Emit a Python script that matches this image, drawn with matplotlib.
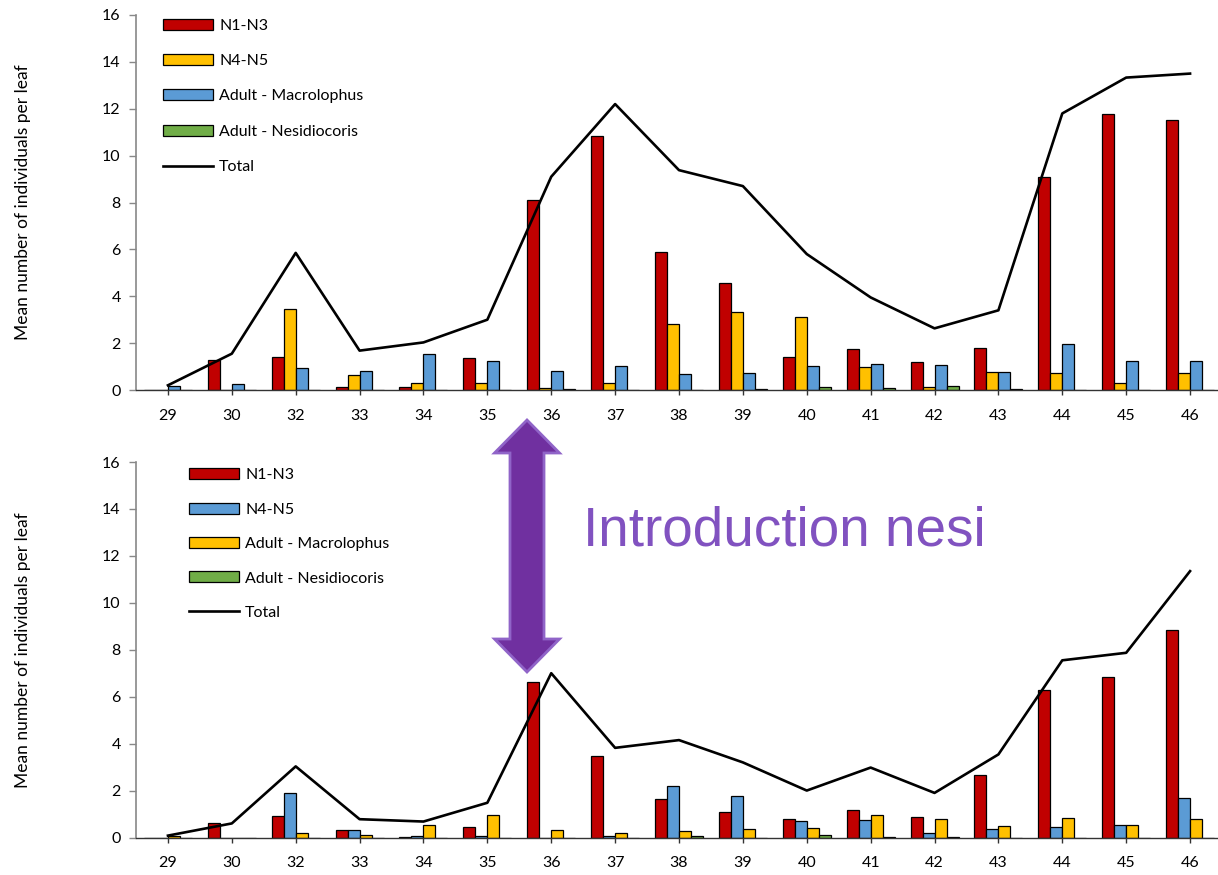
import numpy as np
import matplotlib.pyplot as plt
from matplotlib.patches import Polygon

plt.rcParams['font.family'] = ['Lato', 'DejaVu Sans']

# sampling weeks
weeks = ['29', '30', '32', '33', '34', '35', '36', '37', '38',
         '39', '40', '41', '42', '43', '44', '45', '46']

# upper panel
n1n3_top = [0, 1.28, 1.42, 0.12, 0.12, 1.35, 8.1, 10.84, 5.9,
            4.58, 1.42, 1.75, 1.21, 1.8, 9.08, 11.77, 11.5]
n4n5_top = [0, 0, 3.44, 0.65, 0.28, 0.28, 0.1, 0.28, 2.82,
            3.31, 3.13, 0.97, 0.12, 0.78, 0.72, 0.3, 0.72]
macro_top = [0.17, 0.24, 0.92, 0.82, 1.54, 1.25, 0.81, 1.04, 0.67,
             0.74, 1.04, 1.11, 1.05, 0.78, 1.96, 1.25, 1.25]
nesi_top = [0, 0, 0, 0, 0, 0, 0.05, 0, 0,
            0.04, 0.14, 0.08, 0.16, 0.04, 0, 0, 0]
total_top = [0.2, 1.55, 5.85, 1.68, 2.03, 3.0, 9.1, 12.2, 9.38,
             8.7, 5.8, 3.95, 2.63, 3.4, 11.8, 13.33, 13.5]

# lower panel
n1n3_bot = [0, 0.63, 0.91, 0.32, 0.03, 0.46, 6.64, 3.47, 1.64,
            1.07, 0.8, 1.17, 0.89, 2.66, 6.28, 6.83, 8.83]
n4n5_bot = [0, 0, 1.91, 0.32, 0.08, 0.07, 0, 0.07, 2.2,
            1.75, 0.69, 0.74, 0.18, 0.36, 0.43, 0.52, 1.69]
macro_bot = [0.05, 0, 0.2, 0.1, 0.53, 0.94, 0.3, 0.19, 0.26,
             0.36, 0.42, 0.94, 0.8, 0.5, 0.83, 0.52, 0.8]
nesi_bot = [0, 0, 0, 0, 0, 0, 0, 0, 0.05,
            0, 0.12, 0.03, 0.03, 0, 0, 0, 0]
total_bot = [0.08, 0.6, 3.03, 0.78, 0.68, 1.48, 7.0, 3.82, 4.15,
             3.2, 2.0, 2.98, 1.9, 3.54, 7.55, 7.87, 11.35]

RED, YELLOW, BLUE, GREEN = '#C00000', '#FFC000', '#5B9BD5', '#70AD47'

W, H = 1218, 875
fig = plt.figure(figsize=(W / 100, H / 100), dpi=100)


def px_axes(left, top, right, bottom):
    return fig.add_axes([left / W, 1 - bottom / H, (right - left) / W, (bottom - top) / H])


def draw_panel(ax, series, total, leg_anchor, leg_spacing):
    x = np.arange(len(weeks))
    w = 0.188
    handles = []
    for i, (label, vals, color) in enumerate(series):
        b = ax.bar(x + (i - 1.5) * w, vals, w, color=color,
                   edgecolor='black', linewidth=0.9, label=label, zorder=2)
        handles.append(b)
    ln, = ax.plot(x, total, color='black', lw=1.9, label='Total', zorder=3)
    handles.append(ln)

    ax.set_xlim(-0.5, 16.5)
    ax.set_ylim(0, 16)
    ax.set_xticks(x, weeks)
    ax.set_yticks(range(0, 17, 2))
    ax.tick_params(axis='y', direction='out', length=5, width=1,
                   color='#888888', labelsize=11.5, pad=6)
    ax.tick_params(axis='x', direction='out', length=3.5, width=1,
                   color='#333333', labelsize=11.5, pad=10)
    for s in ('top', 'right'):
        ax.spines[s].set_visible(False)
    ax.spines['left'].set_color('#888888')
    ax.spines['left'].set_linewidth(1.2)
    ax.spines['bottom'].set_color('#333333')
    ax.spines['bottom'].set_linewidth(1.0)

    ax.set_ylabel('Mean number of individuals per leaf', fontsize=12.5)
    ax.yaxis.set_label_coords(-0.097, 0.5)

    ax.legend(handles=handles, loc='upper left', bbox_to_anchor=leg_anchor,
              frameon=False, fontsize=11.5, handlelength=3.1, handleheight=0.68,
              handletextpad=0.4, labelspacing=leg_spacing,
              borderaxespad=0, borderpad=0)


ax_top = px_axes(136, 15, 1222, 390)
draw_panel(ax_top,
           [('N1-N3', n1n3_top, RED), ('N4-N5', n4n5_top, YELLOW),
            ('Adult - Macrolophus', macro_top, BLUE),
            ('Adult - Nesidiocoris', nesi_top, GREEN)],
           total_top, (0.025, 0.99), 1.33)

ax_bot = px_axes(136, 462, 1222, 837.5)
draw_panel(ax_bot,
           [('N1-N3', n1n3_bot, RED), ('N4-N5', n4n5_bot, BLUE),
            ('Adult - Macrolophus', macro_bot, YELLOW),
            ('Adult - Nesidiocoris', nesi_bot, GREEN)],
           total_bot, (0.049, 0.983), 1.27)

# double-headed arrow marking the release
xc, y_tip1, y_base1, y_base2, y_tip2 = 527, 420, 453, 639, 672
sw, hw = 17, 32.5
pts = [(xc, y_tip1), (xc + hw, y_base1), (xc + sw, y_base1), (xc + sw, y_base2),
       (xc + hw, y_base2), (xc, y_tip2), (xc - hw, y_base2), (xc - sw, y_base2),
       (xc - sw, y_base1), (xc - hw, y_base1)]
pts = [(px / W, 1 - py / H) for px, py in pts]
fig.patches.append(Polygon(pts, closed=True, transform=fig.transFigure,
                           facecolor='#7030A0', edgecolor='#9064C8', lw=2, zorder=5))

fig.text(583 / W, 1 - 545 / H, 'Introduction nesi', color='#8152C0',
         fontsize=39.5, family=['Liberation Sans', 'DejaVu Sans'], va='baseline')

fig.savefig('out.png', dpi=100)
